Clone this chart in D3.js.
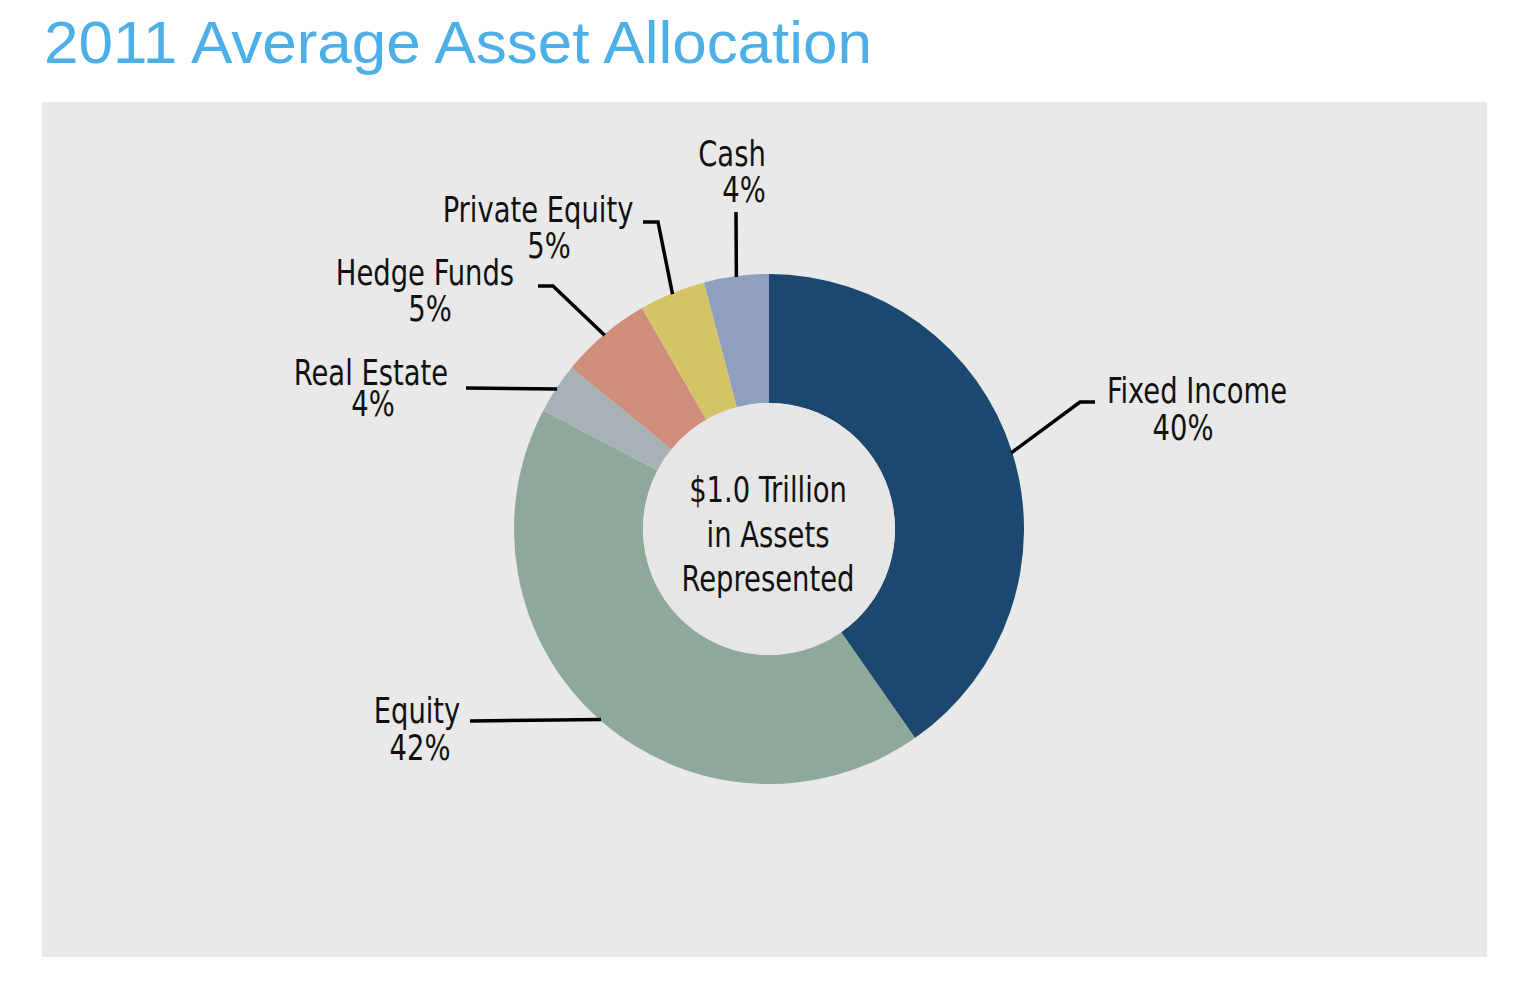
<!DOCTYPE html>
<html>
<head>
<meta charset="utf-8">
<script src="https://cdn.jsdelivr.net/npm/d3@7"></script>
<style>
  html, body { margin: 0; padding: 0; background: #ffffff; }
  svg { display: block; }
  .lbl { font-family: "Liberation Sans Narrow", "DejaVu Sans Condensed", "Liberation Sans", sans-serif; font-size: 35px; fill: #111; }
</style>
</head>
<body>
<svg id="chart" width="1536" height="981"></svg>
<script>
// ---- data ----
const categories = ["Fixed Income", "Equity", "Real Estate", "Hedge Funds", "Private Equity", "Cash"];
const shares = [40.3, 42.4, 3.2, 5.8, 4.2, 4.1];          // slice sizes
const pctLabels = ["40%", "42%", "4%", "5%", "5%", "4%"];  // printed labels
const colors = ["#1c476e", "#8ea899", "#a7b2b6", "#cf8e7b", "#d4c466", "#8fa0bf"];
const centerLines = ["$1.0 Trillion", "in Assets", "Represented"];
const title = "2011 Average Asset Allocation";

// ---- layout ----
const W = 1536, H = 981;
const cx = 769, cy = 529, rOuter = 255, rInner = 126;
const sx = 0.87; // horizontal condensing of label glyphs
const layout = [
  { nx: 1197, ny: 403, px: 1183, py: 440, elbow: [1080, 402], end: [1095, 402] },
  { nx: 417,  ny: 723, px: 420,  py: 760, elbow: [470, 721],  end: [470, 721] },
  { nx: 371,  ny: 385, px: 373,  py: 416, elbow: [466, 388],  end: [466, 388] },
  { nx: 425,  ny: 285, px: 430,  py: 321, elbow: [553, 286],  end: [538, 286] },
  { nx: 538,  ny: 222, px: 549,  py: 258, elbow: [658, 222],  end: [643, 222] },
  { nx: 732,  ny: 166, px: 744,  py: 202, elbow: [736, 212],  end: [736, 212] }
];

const svg = d3.select("#chart");

svg.append("text")
  .attr("x", 44).attr("y", 63)
  .attr("fill", "#4cafe7")
  .attr("textLength", 828)
  .attr("lengthAdjust", "spacingAndGlyphs")
  .style("font-family", "'Liberation Sans', Arial, sans-serif")
  .style("font-size", "60px")
  .text(title);

svg.append("rect")
  .attr("x", 42).attr("y", 102)
  .attr("width", 1445).attr("height", 855)
  .attr("fill", "#e9e9e9");

const data = categories.map((c, i) => ({ name: c, value: shares[i], pct: pctLabels[i], color: colors[i], lay: layout[i] }));

const pie = d3.pie().value(d => d.value).sort(null).startAngle(0).endAngle(2 * Math.PI);
const arcs = pie(data);
const arc = d3.arc().innerRadius(rInner).outerRadius(rOuter);

const g = svg.append("g").attr("transform", `translate(${cx},${cy})`);
g.selectAll("path.slice").data(arcs).join("path")
  .attr("class", "slice")
  .attr("d", arc)
  .attr("fill", d => d.data.color);

g.append("circle").attr("r", rInner).attr("fill", "#e6e6e6");

// leaders
const leader = d3.line();
svg.selectAll("path.leader").data(arcs).join("path")
  .attr("class", "leader")
  .attr("d", d => {
    const a = (d.startAngle + d.endAngle) / 2;
    const x0 = cx + Math.sin(a) * (rOuter - 1);
    const y0 = cy - Math.cos(a) * (rOuter - 1);
    return leader([[x0, y0], d.data.lay.elbow, d.data.lay.end]);
  })
  .attr("fill", "none")
  .attr("stroke", "#000")
  .attr("stroke-width", 3.5);

// labels
function putText(sel, x, y, txt) {
  sel.append("text").attr("class", "lbl").attr("text-anchor", "middle")
    .attr("transform", `translate(${x},${y}) scale(${sx},1)`)
    .text(txt);
}
arcs.forEach(d => {
  const grp = svg.append("g").attr("class", "label");
  putText(grp, d.data.lay.nx, d.data.lay.ny, d.data.name);
  putText(grp, d.data.lay.px, d.data.lay.py, d.data.pct);
});

// center text
const cg = svg.append("g").attr("class", "center");
centerLines.forEach((t, i) => putText(cg, 768, 502 + i * 44.5, t));
</script>
</body>
</html>
